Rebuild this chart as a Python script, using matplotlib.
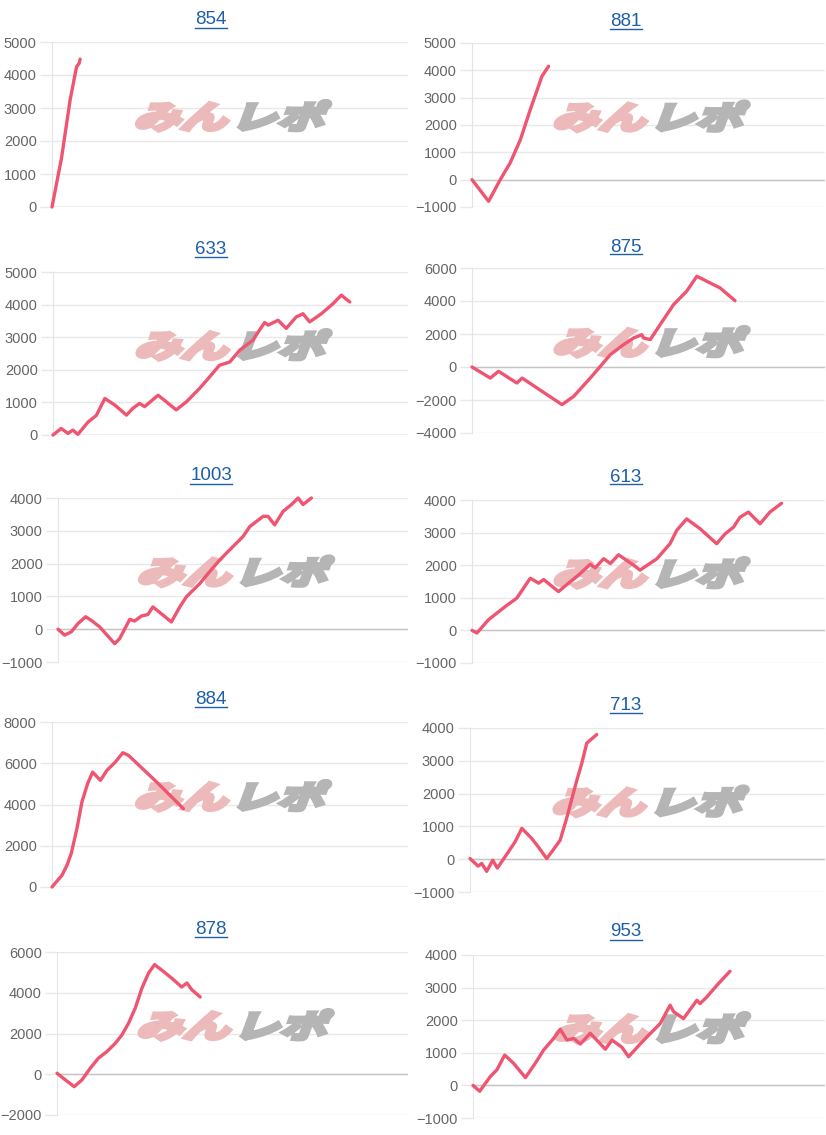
import matplotlib.pyplot as plt
import matplotlib.transforms as mtransforms
from matplotlib.textpath import TextPath
from matplotlib.patches import PathPatch
from matplotlib.font_manager import FontProperties
from matplotlib.lines import Line2D

plt.rcParams['font.family'] = ['Liberation Sans', 'DejaVu Sans']

# ---- data: cumulative balance per machine (x = position along the day, 0-100) ----
titles = ['854', '881', '633', '875', '1003', '613', '884', '713', '878', '953']

x_854 = [0, 2.7, 5.1, 6.9, 7.6, 7.9]
y_854 = [0, 1500, 3250, 4250, 4350, 4480]

x_881 = [0, 4.7, 8.0, 10.8, 13.7, 16.5, 19.8, 21.7]
y_881 = [0, -790, 0, 610, 1460, 2560, 3780, 4150]

x_633 = [0, 2.3, 4.2, 5.6, 7.0, 9.9, 12.2, 14.6, 17.4, 20.7, 22.5, 24.4, 25.8, 29.6, 31.9,
         34.7, 37.6, 41.3, 43.7, 46.9, 49.8, 52.6, 56.3, 59.6, 60.6, 63.4, 65.7, 68.5, 70.4,
         72.3, 75.6, 78.9, 81.2, 83.6]
y_633 = [0, 200, 50, 150, 20, 400, 600, 1120, 920, 610, 820, 970, 870, 1220, 1020,
         770, 1020, 1430, 1730, 2140, 2240, 2600, 2910, 3450, 3370, 3520, 3270, 3620, 3720,
         3470, 3720, 4030, 4290, 4080]

x_875 = [0, 5.2, 7.5, 12.7, 14.2, 18.4, 25.5, 28.8, 33.5, 39.2, 42.9, 45.8, 48.1, 48.6,
         50.5, 53.3, 57.1, 60.8, 63.7, 67.5, 70.3, 74.5]
y_875 = [0, -670, -260, -970, -670, -1270, -2280, -1780, -670, 750, 1350, 1760, 1960, 1760,
         1660, 2570, 3780, 4590, 5500, 5090, 4790, 4020]

x_1003 = [0, 1.9, 3.8, 5.7, 7.9, 9.5, 11.9, 16.2, 17.6, 20.5, 21.9, 23.8, 25.7, 27.1, 30.0,
          32.4, 34.8, 36.7, 40.5, 42.9, 46.2, 50.0, 52.9, 54.8, 58.6, 60.0, 61.9, 64.3, 66.7,
          68.6, 70.0, 72.4]
y_1003 = [0, -180, -80, 170, 380, 270, 70, -440, -290, 300, 250, 400, 450, 680, 430,
          220, 680, 990, 1390, 1700, 2110, 2520, 2830, 3130, 3440, 3440, 3180, 3590, 3800,
          4000, 3800, 4000]

x_613 = [0, 1.4, 4.7, 9.4, 12.7, 16.5, 18.9, 20.3, 24.5, 27.8, 30.2, 33.5, 34.9, 37.3, 39.2,
         41.5, 45.8, 47.6, 52.4, 56.1, 58.0, 60.8, 64.6, 69.3, 71.7, 74.1, 75.9, 78.3, 81.6,
         84.4, 87.7]
y_613 = [0, -80, 330, 730, 990, 1600, 1450, 1560, 1190, 1490, 1700, 2030, 1920, 2200, 2050,
         2320, 2000, 1850, 2200, 2660, 3070, 3420, 3120, 2660, 2960, 3170, 3470, 3630, 3270,
         3630, 3900]

x_884 = [0, 2.8, 4.2, 5.4, 7.0, 8.4, 10.0, 11.4, 13.6, 15.4, 17.8, 19.9, 21.5, 29.4, 36.9]
y_884 = [0, 570, 1050, 1620, 2830, 4120, 5010, 5570, 5170, 5650, 6060, 6510, 6380, 5090, 3800]

x_713 = [0, 2.3, 3.3, 4.7, 6.4, 7.7, 10.8, 12.7, 14.6, 17.4, 19.2, 21.6, 23.0, 25.4, 27.2,
         30.0, 31.5, 32.9, 35.7]
y_713 = [20, -210, -130, -370, -30, -270, 220, 530, 940, 630, 380, 20, 220, 580, 1240,
         2370, 2930, 3540, 3800]

x_878 = [0, 2.4, 4.9, 7.1, 9.5, 11.8, 14.2, 16.6, 18.5, 20.4, 22.3, 24.2, 26.1, 27.8, 30.3,
         33.2, 35.5, 37.0, 38.4, 40.8]
y_878 = [50, -280, -610, -280, 300, 790, 1110, 1520, 1930, 2510, 3250, 4230, 4970, 5380, 5050,
         4640, 4280, 4480, 4150, 3790]

x_953 = [0, 1.9, 4.9, 6.8, 9.0, 11.5, 14.9, 17.7, 20.1, 22.9, 24.8, 26.7, 28.6, 30.5, 33.3,
         37.6, 39.5, 42.3, 44.2, 47.5, 49.9, 53.2, 56.0, 57.0, 59.8, 63.6, 64.5, 66.4, 69.7, 73.0]
y_953 = [0, -180, 270, 480, 930, 680, 240, 680, 1090, 1440, 1720, 1390, 1440, 1270, 1600,
         1110, 1390, 1170, 880, 1270, 1540, 1900, 2460, 2260, 2050, 2610, 2510, 2710, 3120, 3500]

xs = [x_854, x_881, x_633, x_875, x_1003, x_613, x_884, x_713, x_878, x_953]
ys = [y_854, y_881, y_633, y_875, y_1003, y_613, y_884, y_713, y_878, y_953]

# y-axis ranges (min, max, step)
y_ranges = [(0, 5000, 1000), (-1000, 5000, 1000), (0, 5000, 1000), (-4000, 6000, 2000),
            (-1000, 4000, 1000), (-1000, 4000, 1000), (0, 8000, 2000), (-1000, 4000, 1000),
            (-2000, 6000, 2000), (-1000, 4000, 1000)]

# ---- layout (pixels) ----
W, H = 826, 1135
boxes = [(52, 42, 408, 207), (472, 43, 825, 207),
         (53, 272, 408, 435), (472, 268, 825, 433),
         (58, 498, 408, 662), (472, 500, 825, 663),
         (52, 722, 408, 887), (470, 728, 825, 892),
         (57, 952, 408, 1115), (473, 955, 825, 1118)]
title_pos = [(211, 20), (626, 21), (211, 249), (626, 247), (211, 476), (626, 477),
             (211, 699), (626, 705), (211, 929), (626, 932)]

line_color = '#ef5470'
link_color = '#1f5fa8'

fig = plt.figure(figsize=(W / 100, H / 100), dpi=100)
wm_font = FontProperties(family='Noto Sans CJK JP', weight='bold')


def watermark(ax):
    # "みんレポ" logo drawn as slanted, thickened text paths
    for txt, color, dx in [('みん', '#ecbaba', -97), ('レポ', '#b5b5b5', 0)]:
        path = TextPath((0, 0), txt, size=33, prop=wm_font)
        tr = (mtransforms.Affine2D().skew_deg(14, 0).scale(1.42, 0.95).translate(dx, -12)
              + mtransforms.ScaledTranslation(0.5, 0.55, ax.transAxes))
        ax.add_artist(PathPatch(path, transform=tr, facecolor=color, edgecolor=color,
                                lw=3.2, joinstyle='miter', zorder=1.8))


title_texts = []
for i in range(10):
    l, t, r, b = boxes[i]
    ax = fig.add_axes([l / W, 1 - b / H, (r - l) / W, (b - t) / H])
    lo, hi, step = y_ranges[i]
    ax.set_ylim(lo, hi)
    ax.set_xlim(0, 100)
    ax.set_yticks(range(lo, hi + 1, step))
    ax.set_xticks([])
    ax.yaxis.grid(True, color='#e8e8e8', lw=1, zorder=0)
    ax.set_axisbelow(True)
    for s in ['top', 'right', 'bottom']:
        ax.spines[s].set_visible(False)
    ax.spines['left'].set_color('#e4e4e4')
    ax.tick_params(axis='y', length=9, width=1, color='#e8e8e8', labelcolor='#666666',
                   labelsize=10.5, pad=2)
    ax.axhline(0, color='#c4c4c4', lw=1, zorder=1.5)
    watermark(ax)
    ax.plot(xs[i], ys[i], color=line_color, lw=2.4, clip_on=False,
            solid_joinstyle='round', solid_capstyle='round', zorder=3)

    tx, ty = title_pos[i]
    title_texts.append(fig.text(tx / W, 1 - ty / H, titles[i], color=link_color,
                                fontsize=13.5, ha='center', va='center'))

# underline the titles like links
fig.canvas.draw()
inv = fig.transFigure.inverted()
for t in title_texts:
    bb = t.get_window_extent()
    (x0, y0), (x1, _) = inv.transform([(bb.x0, bb.y0 + 1), (bb.x1, bb.y0)])
    fig.lines.append(Line2D([x0, x1], [y0, y0], transform=fig.transFigure,
                            color=link_color, lw=1))

fig.savefig('out.png', dpi=100)
